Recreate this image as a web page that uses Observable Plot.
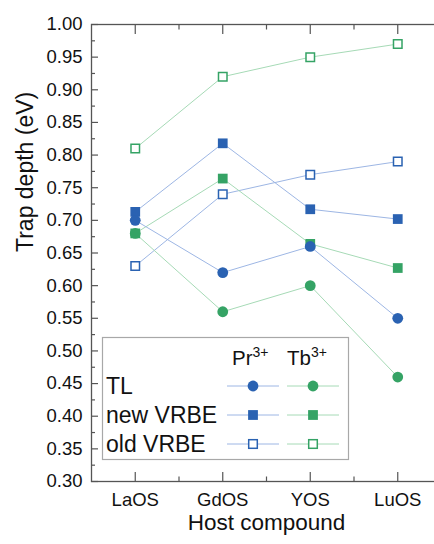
<!DOCTYPE html>
<html>
<head>
<meta charset="utf-8">
<script src="https://cdn.jsdelivr.net/npm/d3@7"></script>
<script src="https://cdn.jsdelivr.net/npm/@observablehq/plot@0.6"></script>
<style>
  html, body { margin: 0; padding: 0; background: #fff; }
  #wrap { position: relative; width: 434px; height: 544px; overflow: hidden; }
  #wrap > svg, #wrap > figure { position: absolute; left: 0; top: 0; margin: 0; }
  #wrap svg { max-width: none !important; height: auto; }
  #legend { position: absolute; left: 0; top: 0; pointer-events: none; }
</style>
</head>
<body>
<div id="wrap"></div>
<script>
// ---- data ----
const hosts = ["LaOS", "GdOS", "YOS", "LuOS"];
const hostIndex = [1, 2, 3, 4];
const prTL  = [0.700, 0.620, 0.660, 0.550];
const tbTL  = [0.680, 0.560, 0.600, 0.460];
const prNew = [0.713, 0.818, 0.717, 0.702];
const tbNew = [0.680, 0.764, 0.664, 0.627];
const prOld = [0.630, 0.740, 0.770, 0.790];
const tbOld = [0.810, 0.920, 0.950, 0.970];
const yTicks = [0.30, 0.35, 0.40, 0.45, 0.50, 0.55, 0.60, 0.65, 0.70, 0.75, 0.80, 0.85, 0.90, 0.95, 1.00];
const yMinorTicks = [0.325, 0.375, 0.425, 0.475, 0.525, 0.575, 0.625, 0.675, 0.725, 0.775, 0.825, 0.875, 0.925, 0.975];
const xMinorTicks = [1.5, 2.5, 3.5];
const ionLabels = ["Pr", "Tb"];
const methodLabels = ["TL", "new VRBE", "old VRBE"];

// ---- styles ----
const markColor = {Pr: "#2a62b2", Tb: "#35a365"};
const lineColor = {Pr: "#9db6e4", Tb: "#a6dab6"};
const axisColor = "#555";
const font = "'Liberation Sans', Arial, Helvetica, sans-serif";

const series = [
  {ion: "Pr", method: "old VRBE", values: prOld},
  {ion: "Tb", method: "old VRBE", values: tbOld},
  {ion: "Pr", method: "new VRBE", values: prNew},
  {ion: "Tb", method: "new VRBE", values: tbNew},
  {ion: "Pr", method: "TL", values: prTL},
  {ion: "Tb", method: "TL", values: tbTL}
];
const rowsOf = s => s.values.map((v, i) => ({x: hostIndex[i], v}));

function markerMarks(data, ion, method, opts) {
  const c = markColor[ion];
  if (method === "TL") return Plot.dot(data, {...opts, symbol: "circle", r: 5.4, fill: c, stroke: "none"});
  if (method === "new VRBE") return Plot.dot(data, {...opts, symbol: "square", r: 5.5, fill: c, stroke: "none"});
  return Plot.dot(data, {...opts, symbol: "square", r: 4.8, fill: "white", stroke: c, strokeWidth: 1.5});
}

const marks = [];
for (const s of series) {
  marks.push(Plot.line(rowsOf(s), {x: "x", y: "v", stroke: lineColor[s.ion], strokeWidth: 1}));
}
for (const s of series) {
  marks.push(markerMarks(rowsOf(s), s.ion, s.method, {x: "x", y: "v"}));
}

const plot = Plot.plot({
  width: 450,
  height: 544,
  marginLeft: 91,
  marginRight: 9,
  marginTop: 24,
  marginBottom: 63,
  x: {domain: [0.5, 4.5]},
  y: {domain: [0.30, 1.00]},
  style: {fontFamily: font, fontSize: "18.5px", color: "#111", background: "transparent", maxWidth: "none"},
  marks: [
    Plot.axisY({anchor: "left", ticks: yTicks, tickSize: 0, tickPadding: 9, tickFormat: d3.format(".2f"), label: null, fontSize: 18.5, fill: "#111"}),
    Plot.axisY({anchor: "left", ticks: yTicks, tickSize: -7, tickPadding: 0, tickFormat: () => "", label: null, stroke: axisColor, strokeWidth: 1.2}),
    Plot.axisY({anchor: "left", ticks: yMinorTicks, tickSize: -4, tickPadding: 0, tickFormat: () => "", label: null, stroke: axisColor, strokeWidth: 1.2}),
    Plot.axisY({anchor: "right", ticks: yTicks, tickSize: -8, tickPadding: 0, tickFormat: () => "", label: null, stroke: "#bbb", strokeWidth: 1.2}),
    Plot.axisY({anchor: "right", ticks: yMinorTicks, tickSize: -4, tickPadding: 0, tickFormat: () => "", label: null, stroke: "#bbb", strokeWidth: 1.2}),
    Plot.axisX({anchor: "bottom", ticks: hostIndex, tickSize: 0, tickPadding: 11, tickFormat: i => hosts[i - 1], label: null, fontSize: 18.5, fill: "#111"}),
    Plot.axisX({anchor: "bottom", ticks: hostIndex, tickSize: -9, tickPadding: 0, tickFormat: () => "", label: null, stroke: axisColor, strokeWidth: 1.2}),
    Plot.axisX({anchor: "bottom", ticks: xMinorTicks, tickSize: -4.5, tickPadding: 0, tickFormat: () => "", label: null, stroke: axisColor, strokeWidth: 1.2}),
    Plot.axisX({anchor: "top", ticks: hostIndex, tickSize: -9, tickPadding: 0, tickFormat: () => "", label: null, stroke: axisColor, strokeWidth: 1.2}),
    Plot.axisX({anchor: "top", ticks: xMinorTicks, tickSize: -4.5, tickPadding: 0, tickFormat: () => "", label: null, stroke: axisColor, strokeWidth: 1.2}),
    Plot.frame({stroke: axisColor, strokeWidth: 1.3}),
    ...marks,
    Plot.text(["Host compound"], {frameAnchor: "bottom", dy: 48, fontSize: 22.5, fill: "#111"}),
    Plot.text(["Trap depth (eV)"], {frameAnchor: "left", dx: -66, dy: -1, rotate: -90, fontSize: 23, fill: "#111"})
  ]
});

const wrap = document.getElementById("wrap");
wrap.appendChild(plot);
plot.style.maxWidth = "none";
plot.setAttribute("width", 450);
plot.setAttribute("height", 544);
plot.style.width = "450px";
plot.style.height = "544px";

// ---- legend overlay ----
const lg = d3.select(wrap).append("svg")
  .attr("id", "legend")
  .attr("width", 434).attr("height", 544)
  .style("font-family", font);

lg.append("rect")
  .attr("x", 102.5).attr("y", 337.5).attr("width", 246).attr("height", 122)
  .attr("fill", "white").attr("stroke", "#a8a8a8").attr("stroke-width", 1.2);

const colX = {Pr: 253, Tb: 313};
const headerX = {Pr: 232, Tb: 287};
for (const ion of ionLabels) {
  const t = lg.append("text").attr("x", headerX[ion]).attr("y", 365)
    .attr("font-size", 20.5).attr("fill", "#111");
  t.append("tspan").text(ion);
  t.append("tspan").attr("font-size", 14).attr("dy", -8).text("3+");
}
const rowY = {"TL": 386, "new VRBE": 415, "old VRBE": 444};
for (const m of methodLabels) {
  lg.append("text").attr("x", 106).attr("y", rowY[m] + 7.5)
    .attr("font-size", 23).attr("fill", "#111").text(m);
  for (const ion of ionLabels) {
    const cx = colX[ion], cy = rowY[m];
    lg.append("line").attr("x1", cx - 26).attr("x2", cx + 26).attr("y1", cy).attr("y2", cy)
      .attr("stroke", lineColor[ion]).attr("stroke-width", 1);
    const c = markColor[ion];
    if (m === "TL") {
      lg.append("circle").attr("cx", cx).attr("cy", cy).attr("r", 5.4).attr("fill", c);
    } else if (m === "new VRBE") {
      lg.append("rect").attr("x", cx - 4.9).attr("y", cy - 4.9).attr("width", 9.8).attr("height", 9.8).attr("fill", c);
    } else {
      lg.append("rect").attr("x", cx - 4.3).attr("y", cy - 4.3).attr("width", 8.6).attr("height", 8.6)
        .attr("fill", "white").attr("stroke", c).attr("stroke-width", 1.5);
    }
  }
}
</script>
</body>
</html>
